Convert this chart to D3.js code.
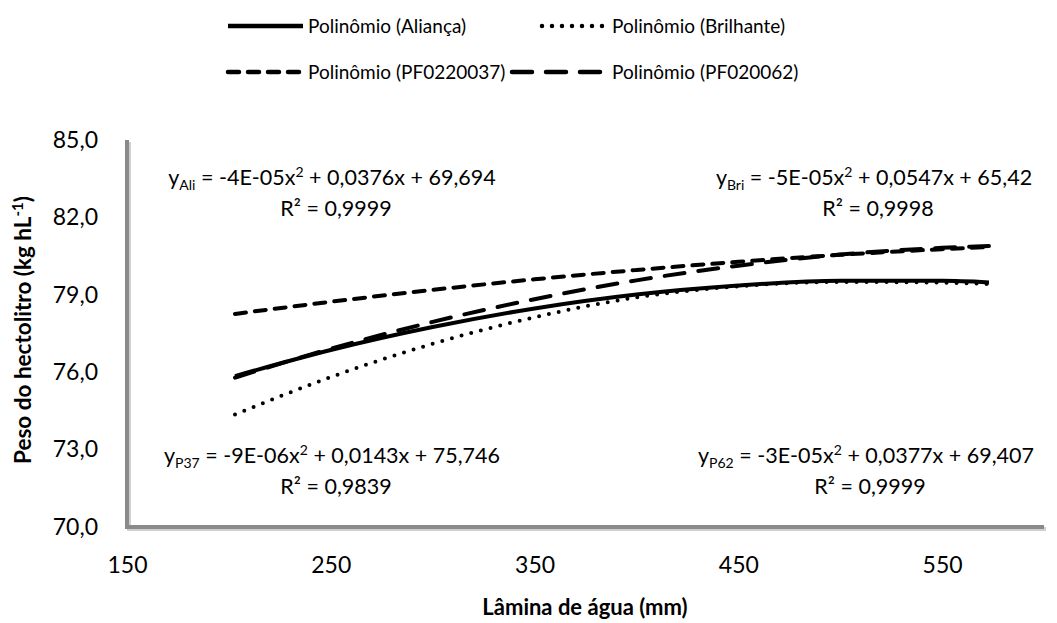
<!DOCTYPE html>
<html><head><meta charset="utf-8">
<script src="https://cdn.jsdelivr.net/npm/d3@7"></script>
<style>
html,body{margin:0;padding:0;background:#fff;}
svg{display:block;font-family:Lato,"Open Sans",sans-serif;}
</style></head>
<body>
<svg id="chart" width="1057" height="623"></svg>
<script>
// Data
const xValues = [203, 250, 300, 350, 400, 450, 500, 550, 573];
const alianca   = [75.85, 76.86, 77.75, 78.47, 79.01, 79.36, 79.54, 79.54, 79.48];
const brilhante = [74.36, 75.81, 77.10, 78.13, 78.90, 79.33, 79.50, 79.47, 79.42];
const pf0220037 = [78.26, 78.73, 79.19, 79.60, 79.96, 80.28, 80.55, 80.77, 80.85];
const pf020062  = [75.79, 76.91, 77.95, 78.83, 79.56, 80.13, 80.56, 80.82, 80.89];
const xTicks = [150, 250, 350, 450, 550];
const yTicks = [70, 73, 76, 79, 82, 85];
const seriesNames = ["Polinômio (Aliança)", "Polinômio (Brilhante)", "Polinômio (PF0220037)", "Polinômio (PF020062)"];

const svg = d3.select("#chart");
const x = d3.scaleLinear().domain([150, 600]).range([127, 1044]);
const y = d3.scaleLinear().domain([70, 85]).range([527, 140]);
const fmt = v => d3.format(".1f")(v).replace(".", ",");

const styles = [
  {dash: null, cap: "butt"},
  {dash: "0,10", cap: "round"},
  {dash: "11,9", cap: "round"},
  {dash: "20,14", cap: "round"}
];
const allSeries = [alianca, brilhante, pf0220037, pf020062];

// Axes lines (Excel style gray, with a subtle shadow)
const axisG = svg.append("g");
axisG.append("path")
  .attr("d", `M${x(150)+2},${y(85)+2} V${y(70)+2} H${x(600)+2}`)
  .attr("fill", "none").attr("stroke", "#cfcfcf").attr("stroke-width", 4);
axisG.append("path")
  .attr("d", `M${x(150)},${y(85)} V${y(70)} H${x(600)}`)
  .attr("fill", "none").attr("stroke", "#8a8a8a").attr("stroke-width", 4);

// Tick labels using axes (no tick lines)
const xAxis = d3.axisBottom(x).tickValues(xTicks).tickSize(0).tickPadding(30).tickFormat(d3.format("d"));
const gx = svg.append("g").attr("transform", `translate(0,${y(70)})`).call(xAxis);
gx.select(".domain").remove();
gx.selectAll("text").attr("font-size", 23).attr("fill", "#000").attr("font-family", "Lato");

const yAxis = d3.axisLeft(y).tickValues(yTicks).tickSize(0).tickPadding(29).tickFormat(fmt);
const gy = svg.append("g").attr("transform", `translate(${x(150)},0)`).call(yAxis);
gy.select(".domain").remove();
gy.selectAll("text").attr("font-size", 23).attr("fill", "#000").attr("font-family", "Lato");

// Lines
const line = d3.line().x((d, i) => x(xValues[i])).y(d => y(d)).curve(d3.curveMonotoneX);
allSeries.forEach((s, i) => {
  svg.append("path").datum(s)
    .attr("d", line)
    .attr("fill", "none")
    .attr("stroke", "#000")
    .attr("stroke-width", 4)
    .attr("stroke-linecap", styles[i].cap)
    .attr("stroke-dasharray", styles[i].dash);
});

// Legend
const legendItems = [
  {x1: 228, x2: 303, ty: 26, tx: 308},
  {x1: 542, x2: 606, ty: 26, tx: 612},
  {x1: 228, x2: 303, ty: 72, tx: 308},
  {x1: 512, x2: 606, ty: 72, tx: 612}
];
legendItems.forEach((li, i) => {
  svg.append("line").attr("x1", li.x1).attr("x2", li.x2).attr("y1", li.ty).attr("y2", li.ty)
    .attr("stroke", "#000").attr("stroke-width", 4.5)
    .attr("stroke-linecap", styles[i].cap).attr("stroke-dasharray", styles[i].dash);
  svg.append("text").attr("x", li.tx).attr("y", li.ty).attr("dy", "0.35em")
    .attr("font-size", 19).text(seriesNames[i]);
});

// Equations
const eqs = [
  {sub: "Ali", a: "-4E-05x", rest: " + 0,0376x + 69,694", r2: "0,9999", x: 332, y: 177},
  {sub: "Bri", a: "-5E-05x", rest: " + 0,0547x + 65,42", r2: "0,9998", x: 874, y: 177},
  {sub: "P37", a: "-9E-06x", rest: " + 0,0143x + 75,746", r2: "0,9839", x: 332, y: 455},
  {sub: "P62", a: "-3E-05x", rest: " + 0,0377x + 69,407", r2: "0,9999", x: 866, y: 455}
];
eqs.forEach(e => {
  const t = svg.append("text").attr("x", e.x).attr("y", e.y).attr("text-anchor", "middle")
    .attr("font-size", 21.5).attr("dy", "0.35em");
  t.append("tspan").text("y");
  t.append("tspan").attr("font-size", 14).attr("dy", 5).text(e.sub);
  t.append("tspan").attr("dy", -5).text(" = " + e.a);
  t.append("tspan").attr("font-size", 14).attr("dy", -8).text("2");
  t.append("tspan").attr("dy", 8).text(e.rest);
  svg.append("text").attr("x", e.x + 4).attr("y", e.y + 31).attr("text-anchor", "middle")
    .attr("font-size", 21.5).attr("dy", "0.35em").text("R² = " + e.r2);
});

// Axis titles
svg.append("text").attr("x", 585).attr("y", 607).attr("text-anchor", "middle")
  .attr("font-size", 22).attr("font-weight", "bold").attr("dy", "0.35em").text("Lâmina de água (mm)");
const yt = svg.append("text").attr("transform", "translate(23,330) rotate(-90)")
  .attr("text-anchor", "middle").attr("font-size", 22.5).attr("font-weight", "bold").attr("dy", "0.35em");
yt.append("tspan").text("Peso do hectolitro (kg hL");
yt.append("tspan").attr("font-size", 15).attr("dy", -8).text("-1");
yt.append("tspan").attr("dy", 8).text(")");
</script>
</body></html>
